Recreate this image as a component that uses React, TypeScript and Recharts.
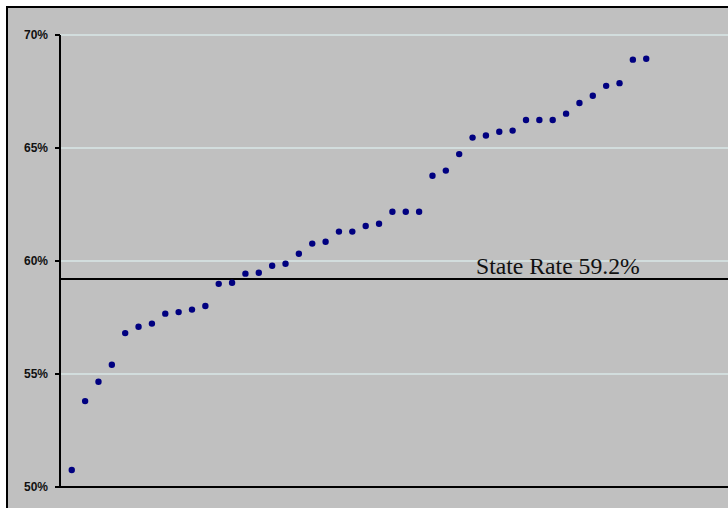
import { ScatterChart, Scatter, XAxis, YAxis, CartesianGrid, ReferenceLine } from 'recharts';

// county rates, sorted low to high (percent)
const rates = [
  50.75, 53.8, 54.66, 55.41, 56.81, 57.09, 57.23, 57.67, 57.74, 57.85, 58.01,
  58.99, 59.04, 59.44, 59.48, 59.79, 59.88, 60.32, 60.77, 60.85, 61.3,
  61.3, 61.55, 61.65, 62.18, 62.18, 62.18, 63.77, 64.0, 64.73,
  65.46, 65.55, 65.72, 65.77, 66.24, 66.24, 66.24, 66.52, 66.99, 67.31,
  67.75, 67.87, 68.91, 68.95,
];
const yTicks = [50, 55, 60, 65, 70];
const stateRate = 59.2;

const chartData = rates.map((rate, i) => ({ rank: i + 1, rate }));

const Dot = (props: any) => <circle cx={props.cx} cy={props.cy} r={3.2} fill="#000080" />;

const StateLabel = (props: any) => {
  const { viewBox } = props;
  return (
    <text
      x={viewBox.x + 416}
      y={viewBox.y - 5}
      fontFamily="'Liberation Serif', 'Times New Roman', serif"
      fontSize={23.7}
      fill="#111"
    >
      State Rate 59.2%
    </text>
  );
};

export default function App() {
  return (
    <div style={{ position: 'absolute', left: 0, top: 0, width: 728, height: 508, overflow: 'hidden', background: '#fff' }}>
      <div
        style={{
          position: 'absolute',
          left: 6,
          top: 6,
          width: 740,
          height: 520,
          background: '#C0C0C0',
          borderLeft: '2px solid #000',
          borderTop: '2px solid #000',
        }}
      />
      <div style={{ position: 'absolute', left: 0, top: 0 }}>
        <ScatterChart width={728} height={508} margin={{ top: 35, right: 0, bottom: 0, left: 0 }}>
          <CartesianGrid vertical={false} stroke="#E4FAFA" strokeWidth={1} />
          <XAxis
            type="number"
            dataKey="rank"
            domain={[0.12, 50.12]}
            tick={false}
            tickLine={false}
            height={21}
            axisLine={{ stroke: '#000', strokeWidth: 2 }}
          />
          <YAxis
            type="number"
            dataKey="rate"
            domain={[50, 70]}
            ticks={yTicks}
            width={60}
            tickFormatter={(v: number) => `${v}%`}
            tick={{ fill: '#111', fontSize: 12, fontWeight: 'bold', fontFamily: "'Liberation Sans', Arial, sans-serif" }}
            tickSize={5}
            tickMargin={7}
            tickLine={{ stroke: '#000', strokeWidth: 2 }}
            axisLine={{ stroke: '#000', strokeWidth: 2 }}
          />
          <ReferenceLine y={stateRate} stroke="#000" strokeWidth={2} label={<StateLabel />} />
          <Scatter data={chartData} shape={<Dot />} isAnimationActive={false} />
        </ScatterChart>
      </div>
    </div>
  );
}
